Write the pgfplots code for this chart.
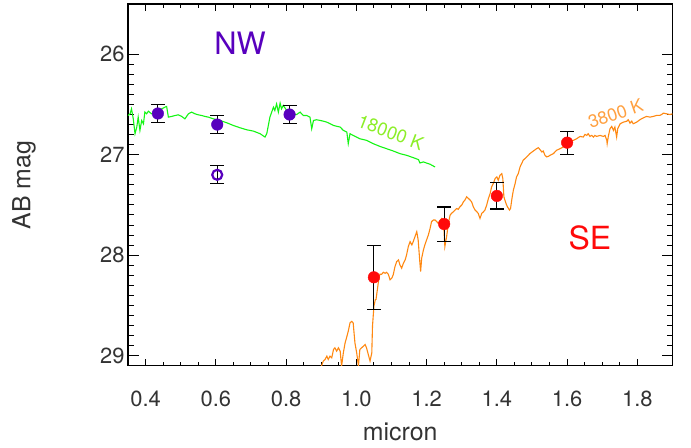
\documentclass[border=0pt]{standalone}
\usepackage{fontspec}
\setmainfont{TeX Gyre Heros}
\usepackage{pgfplots}
\pgfplotsset{compat=1.18}
\definecolor{nwpurple}{RGB}{88,0,190}
\definecolor{sered}{RGB}{255,10,10}
\definecolor{specgreen}{RGB}{20,245,20}
\definecolor{specorange}{RGB}{255,136,17}
\definecolor{lblgreen}{RGB}{140,238,40}
\definecolor{lblorange}{RGB}{255,160,64}
\definecolor{ticktext}{RGB}{51,51,51}
\begin{document}
\begin{tikzpicture}
\useasboundingbox (-128bp,-82.3bp) rectangle (563bp,365.7bp);
\begin{axis}[
  at={(0,0)}, anchor=south west,
  scale only axis, width=544.5bp, height=361.7bp,
  xmin=0.35, xmax=1.9, ymin=25.5, ymax=29.1, y dir=reverse,
  xtick={0.4,0.6,0.8,1.0,1.2,1.4,1.6,1.8}, minor x tick num=3,
  ytick={26,27,28,29}, minor y tick num=9,
  tick align=inside,
  axis line style={black, line width=1.2bp},
  x tick style={black, line width=1bp, /pgfplots/major tick length=6.5bp, /pgfplots/minor tick length=3.5bp},
  y tick style={black, line width=1bp, /pgfplots/major tick length=11bp, /pgfplots/minor tick length=6bp},
  /pgf/number format/assume math mode=true,
  ticklabel style={font=\fontsize{22}{26}\selectfont, text=ticktext},
  xticklabel style={/pgf/number format/fixed, /pgf/number format/fixed zerofill, /pgf/number format/precision=1, yshift=-22bp},
  yticklabel style={/pgf/number format/fixed},
  xlabel={micron}, ylabel={AB mag},
  xlabel style={at={(axis description cs:0.5,-0.1825)}, anchor=center, font=\fontsize{25}{30}\selectfont, text=ticktext},
  ylabel style={at={(axis description cs:-0.191,0.5)}, anchor=center, font=\fontsize{25}{30}\selectfont, text=ticktext},
]
% 18000 K spectrum
\addplot[specgreen, line width=1.1bp, no marks] coordinates {
(0.350,26.610)(0.356,26.593)(0.360,26.543)(0.365,26.643)(0.370,26.791)(0.375,26.725)(0.379,26.626)(0.384,26.758)(0.389,26.659)(0.394,26.692)(0.398,26.576)(0.403,26.593)(0.408,26.567)(0.417,26.593)(0.427,26.576)(0.436,26.560)(0.446,26.543)(0.455,26.527)(0.460,26.520)(0.465,26.626)(0.474,26.619)(0.484,26.610)(0.493,26.603)(0.503,26.619)(0.512,26.643)(0.522,26.593)(0.531,26.576)(0.541,26.593)(0.550,26.603)(0.560,26.610)(0.569,26.619)(0.579,26.626)(0.593,26.643)(0.612,26.659)(0.631,26.682)(0.650,26.709)(0.669,26.732)(0.688,26.752)(0.707,26.765)(0.726,26.791)(0.740,26.824)(0.745,26.791)(0.754,26.626)(0.764,26.527)(0.768,26.560)(0.773,26.494)(0.778,26.576)(0.783,26.487)(0.787,26.543)(0.792,26.510)(0.802,26.560)(0.811,26.576)(0.821,26.593)(0.830,26.600)(0.840,26.576)(0.849,26.610)(0.859,26.610)(0.868,26.626)(0.873,26.742)(0.878,26.659)(0.887,26.652)(0.897,26.659)(0.906,26.666)(0.916,26.676)(0.935,26.709)(0.954,26.725)(0.963,26.758)(0.973,26.775)(0.977,26.890)(0.982,26.791)(0.991,26.808)(1.010,26.841)(1.029,26.857)(1.048,26.890)(1.067,26.917)(1.086,26.940)(1.105,26.963)(1.124,26.989)(1.143,27.006)(1.162,27.029)(1.177,27.049)(1.181,27.082)(1.191,27.072)(1.210,27.095)(1.224,27.122)
};
% 3800 K spectrum
\addplot[specorange, line width=1.1bp, no marks] coordinates {
(0.897,29.15)(0.901,29.10)(0.906,29.054)(0.911,29.038)(0.916,29.005)(0.920,29.038)(0.925,29.005)(0.930,29.021)(0.935,28.939)(0.939,28.922)(0.944,28.955)(0.949,28.922)(0.954,28.955)(0.958,29.104)(0.963,28.972)(0.968,28.873)(0.972,28.823)(0.977,28.757)(0.982,28.674)(0.987,28.658)(0.991,28.674)(0.996,28.873)(1.001,28.972)(1.006,29.104)(1.010,28.939)(1.015,28.922)(1.020,28.906)(1.025,28.889)(1.029,28.922)(1.034,28.988)(1.039,29.054)(1.044,28.972)(1.046,28.707)(1.050,28.509)(1.054,28.443)(1.056,28.44)(1.060,28.34)(1.063,28.26)(1.067,28.19)(1.072,28.19)(1.077,28.17)(1.082,28.18)(1.086,28.17)(1.091,28.19)(1.096,28.245)(1.101,28.228)(1.105,28.195)(1.110,28.113)(1.115,28.063)(1.120,28.047)(1.124,28.096)(1.129,28.129)(1.134,28.080)(1.139,28.047)(1.143,27.997)(1.148,27.914)(1.153,27.865)(1.158,27.898)(1.162,27.865)(1.167,27.815)(1.172,27.766)(1.176,27.848)(1.181,28.080)(1.183,28.162)(1.186,28.030)(1.191,27.947)(1.195,27.898)(1.200,27.848)(1.205,27.799)(1.210,27.733)(1.214,27.667)(1.219,27.650)(1.224,27.650)(1.229,27.667)(1.233,27.683)(1.238,27.657)(1.243,27.634)(1.248,27.650)(1.250,27.782)(1.252,27.914)(1.257,27.815)(1.262,27.683)(1.267,27.600)(1.271,27.584)(1.276,27.568)(1.281,27.551)(1.286,27.535)(1.290,27.544)(1.295,27.518)(1.300,27.501)(1.305,27.468)(1.309,27.452)(1.314,27.419)(1.319,27.435)(1.324,27.452)(1.328,27.468)(1.333,27.518)(1.338,27.551)(1.343,27.568)(1.347,27.584)(1.352,27.634)(1.357,27.584)(1.362,27.568)(1.366,27.551)(1.371,27.502)(1.376,27.435)(1.381,27.386)(1.385,27.320)(1.390,27.287)(1.395,27.237)(1.400,27.221)(1.404,27.254)(1.409,27.204)(1.414,27.188)(1.417,27.237)(1.420,27.419)(1.426,27.485)(1.430,27.518)(1.436,27.551)(1.439,27.535)(1.443,27.435)(1.447,27.353)(1.452,27.287)(1.456,27.221)(1.461,27.188)(1.466,27.122)(1.475,27.055)(1.485,27.022)(1.494,26.989)(1.504,26.963)(1.513,26.940)(1.518,26.930)(1.523,26.950)(1.528,26.973)(1.532,26.963)(1.537,27.006)(1.542,27.022)(1.547,27.016)(1.551,27.006)(1.561,26.989)(1.570,26.956)(1.580,26.940)(1.589,26.923)(1.599,26.890)(1.608,26.874)(1.618,26.857)(1.627,26.841)(1.637,26.818)(1.646,26.824)(1.651,26.798)(1.656,26.808)(1.660,26.791)(1.665,26.818)(1.670,26.808)(1.675,26.824)(1.679,26.808)(1.684,26.818)(1.694,26.808)(1.703,26.818)(1.708,26.808)(1.713,26.857)(1.714,26.890)(1.717,26.824)(1.722,26.742)(1.727,26.718)(1.732,26.758)(1.736,26.725)(1.741,26.824)(1.744,26.742)(1.751,26.692)(1.760,26.676)(1.770,26.666)(1.774,26.652)(1.779,26.685)(1.784,26.666)(1.788,26.692)(1.798,26.676)(1.807,26.652)(1.817,26.633)(1.826,26.619)(1.836,26.626)(1.845,26.619)(1.855,26.609)(1.864,26.609)(1.869,26.600)(1.874,26.586)(1.883,26.593)(1.893,26.600)(1.900,26.593)
};
% NW photometry (filled)
\addplot[only marks, mark=*, mark size=5.8bp, nwpurple, mark options={fill=nwpurple, draw=nwpurple},
  error bars/.cd, y dir=both, y explicit,
  error bar style={black, line width=1.1bp},
  error mark options={black, line width=1.1bp, mark size=7bp, rotate=90}]
  coordinates {(0.435,26.59) +- (0,0.09) (0.604,26.70) +- (0,0.09) (0.810,26.60) +- (0,0.09)};
% NW photometry (open)
\addplot[only marks, mark=o, mark size=5bp, nwpurple, mark options={draw=nwpurple, line width=2.2bp},
  error bars/.cd, y dir=both, y explicit,
  error bar style={black, line width=1.1bp},
  error mark options={black, line width=1.1bp, mark size=7bp, rotate=90}]
  coordinates {(0.604,27.20) +- (0,0.09)};
% SE photometry
\addplot[only marks, mark=*, mark size=5.8bp, sered, mark options={fill=sered, draw=sered},
  error bars/.cd, y dir=both, y explicit,
  error bar style={black, line width=1.1bp},
  error mark options={black, line width=1.1bp, mark size=7bp, rotate=90}]
  coordinates {(1.05,28.22) +- (0,0.32) (1.25,27.69) +- (0,0.17) (1.40,27.41) +- (0,0.13) (1.60,26.88) +- (0,0.115)};
\node[text=nwpurple, font=\fontsize{31}{36}\selectfont] at (axis cs:0.669,25.886) {NW};
\node[text=sered, font=\fontsize{32}{36}\selectfont] at (axis cs:1.665,27.829) {SE};
\node[text=lblgreen, font=\fontsize{18.5}{22}\selectfont, rotate=-21] at (axis cs:1.098,26.778) {18000 K};
\node[text=lblorange, font=\fontsize{18}{22}\selectfont, rotate=19] at (axis cs:1.738,26.59) {3800 K};
\end{axis}
\end{tikzpicture}
\end{document}
